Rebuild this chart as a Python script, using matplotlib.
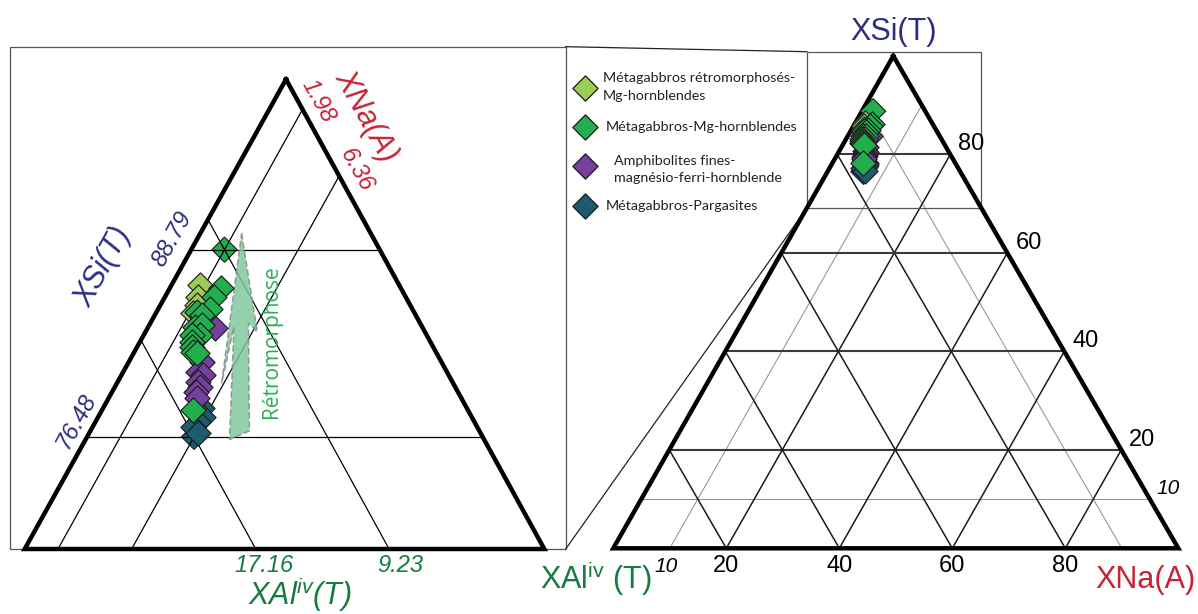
import numpy as np
import matplotlib.pyplot as plt
from matplotlib.patches import Polygon, Rectangle

plt.rcParams['font.family'] = ['Liberation Sans', 'DejaVu Sans']
plt.rcParams['mathtext.fontset'] = 'custom'
plt.rcParams['mathtext.rm'] = 'Liberation Sans'
plt.rcParams['mathtext.it'] = 'Liberation Sans:italic'

# amphibole compositions, XSi(T) / XAl_iv(T) / XNa(A) in %
retro_si = [86.47, 85.70, 85.15, 84.60]
retro_al = [11.84, 12.33, 12.67, 13.20]
retro_na = [1.69, 1.97, 2.18, 2.20]

mg_si = [86.25, 85.70, 84.71, 84.89, 84.49, 83.72, 83.84, 83.18, 83.18, 82.74, 82.41, 82.08, 81.98, 78.24]
mg_al = [10.70, 11.37, 12.91, 12.03, 12.73, 13.51, 13.04, 13.47, 13.97, 14.19, 14.35, 14.42, 14.27, 16.33]
mg_na = [3.05, 2.93, 2.38, 3.08, 2.78, 2.77, 3.12, 3.35, 2.85, 3.07, 3.24, 3.50, 3.75, 5.43]

amph_si = [83.66, 81.42, 80.76, 80.55, 80.11, 79.78, 79.45, 79.01]
amph_al = [12.34, 14.25, 14.78, 14.59, 15.10, 15.17, 15.58, 15.75]
amph_na = [4.00, 4.33, 4.46, 4.86, 4.79, 5.05, 4.97, 5.24]

parg_si = [78.36, 77.80, 77.47, 77.15, 76.71]
parg_al = [15.77, 15.96, 16.42, 16.87, 16.80]
parg_na = [5.87, 6.24, 6.11, 5.98, 6.49]

# the two analyses the zoom grid is drawn through
anchor_si = [88.79, 76.48]
anchor_al = [9.23, 17.16]
anchor_na = [1.98, 6.36]
anchor_cols = ['#22ae4d', '#1e5b6e']

# retromorphosis arrow outline (ternary, %)
arrow_si = [89.86, 83.38, 83.97, 76.86, 76.30, 83.72, 80.00]
arrow_na = [2.46, 6.65, 5.83, 9.46, 8.56, 5.09, 6.23]

series_labels = [['Métagabbros rétromorphosés-', 'Mg-hornblendes'],
                 ['Métagabbros-Mg-hornblendes'],
                 ['Amphibolites fines-', 'magnésio-ferri-hornblende'],
                 ['Métagabbros-Pargasites']]
series_cols = ['#9ccb58', '#22ae4d', '#7640a0', '#1e5b6e']

full_ticks = [20, 40, 60, 80]
minor_tick = 10
zoom_smin = 69.1   # lower XSi bound of the zoomed sub-triangle

NAVY = '#2e2d7f'
RED = '#c62336'
DKGREEN = '#157a43'

# frames: pixel corners of each triangle (top = XSi, bottom-left = XAl, bottom-right = XNa)
left_fr = dict(top=(286.0, 79.3), bl=(24.7, 549.0), br=(544.3, 549.0), smin=zoom_smin)
right_fr = dict(top=(893.3, 56.0), bl=(613.3, 548.3), br=(1178.3, 548.3), smin=0.0)


def to_xy(si, al, na, fr):
    si, al, na = np.asarray(si, float), np.asarray(al, float), np.asarray(na, float)
    span = 100.0 - fr['smin']
    wt = (si - fr['smin']) / span
    wl = al / span
    wr = na / span
    x = wt * fr['top'][0] + wl * fr['bl'][0] + wr * fr['br'][0]
    y = wt * fr['top'][1] + wl * fr['bl'][1] + wr * fr['br'][1]
    return x, y


def seg(ax, p, q, fr, **kw):
    x, y = to_xy([p[0], q[0]], [p[1], q[1]], [p[2], q[2]], fr)
    ax.plot(x, y, solid_capstyle='butt', **kw)


def si_line(ax, v, fr, **kw):
    seg(ax, (v, 100 - v, 0), (v, 0, 100 - v), fr, **kw)


def na_line(ax, v, fr, **kw):
    s0 = fr['smin']
    seg(ax, (100 - v, 0, v), (s0, 100 - s0 - v, v), fr, **kw)


def al_line(ax, v, fr, **kw):
    s0 = fr['smin']
    seg(ax, (100 - v, v, 0), (s0, v, 100 - s0 - v), fr, **kw)


def outline(ax, fr, lw):
    s0 = fr['smin']
    x, y = to_xy([100, s0, s0, 100], [0, 100 - s0, 0, 0], [0, 0, 100 - s0, 0], fr)
    ax.plot(x, y, color='black', lw=lw, solid_joinstyle='miter', zorder=8)


fig = plt.figure(figsize=(11.98, 6.14), dpi=100)
ax = fig.add_axes([0, 0, 1, 1])
ax.set_xlim(0, 1198)
ax.set_ylim(614, 0)
ax.axis('off')

all_sets = [(retro_si, retro_al, retro_na), (mg_si, mg_al, mg_na),
            (amph_si, amph_al, amph_na), (parg_si, parg_al, parg_na)]
draw_order = [0, 3, 2, 1]
zorders = {0: 4, 3: 5, 2: 6, 1: 7}
msize = 165

# ---------------- left panel (zoom) ----------------
lbox = (10.0, 46.7, 565.7, 549.0)
ax.add_patch(Rectangle((lbox[0], lbox[1]), lbox[2] - lbox[0], lbox[3] - lbox[1],
                       fill=False, ec='#555555', lw=0.9, zorder=1))

gkw = dict(color='black', lw=0.9, zorder=3)
for v in anchor_si:
    si_line(ax, v, left_fr, **gkw)
for v in anchor_na:
    na_line(ax, v, left_fr, **gkw)
for v in anchor_al:
    al_line(ax, v, left_fr, **gkw)
outline(ax, left_fr, 3.2)

ax_x, ax_y = to_xy(anchor_si, anchor_al, anchor_na, left_fr)
ax.scatter(ax_x, ax_y, s=msize, marker='D', c=anchor_cols, edgecolors='#1a1a1a',
           linewidths=0.8, zorder=2)

for i in draw_order:
    si, al, na = all_sets[i]
    x, y = to_xy(si, al, na, left_fr)
    ax.scatter(x, y, s=msize, marker='D', c=series_cols[i], edgecolors='#1a1a1a',
               linewidths=0.8, zorder=zorders[i])

arrow_al = [100 - s - n for s, n in zip(arrow_si, arrow_na)]
axr, ayr = to_xy(arrow_si, arrow_al, arrow_na, left_fr)
ax.add_patch(Polygon(np.column_stack([axr, ayr]), closed=True, fc='#7fc99c', alpha=0.85,
                     ec='#8a8a8a', lw=1.1, ls=(0, (4, 2)), zorder=3.5))
ax.text(272, 341.7, 'Rétromorphose', rotation=90, ha='center', va='center',
        color='#27ae55', fontsize=15, family=['Open Sans', 'DejaVu Sans'])

# left panel axis labels
ang = 61
ax.text(103, 267, 'XSi(T)', rotation=ang, ha='center', va='center', color=NAVY,
        fontsize=22, style='italic')
for v, off in zip(anchor_si, [(-19.5, -10.4), (-11, -16)]):
    x, y = to_xy(v, 100 - v, 0, left_fr)
    ax.text(x + off[0], y + off[1], f'{v:.2f}', rotation=ang, ha='center', va='center',
            color=NAVY, fontsize=17, style='italic')
ax.text(366, 116.7, 'XNa(A)', rotation=-ang, ha='center', va='center', color=RED,
        fontsize=22, style='italic')
for v, off in zip(anchor_na, [(16, -8), (17, -6)]):
    x, y = to_xy(100 - v, 0, v, left_fr)
    ax.text(x + off[0], y + off[1], f'{v:.2f}', rotation=-ang, ha='center', va='center',
            color=RED, fontsize=17, style='italic')
for v, dx in zip(anchor_al, [11.5, 8]):
    x, y = to_xy(zoom_smin, v, 100 - zoom_smin - v, left_fr)
    ax.text(x + dx, y + 17, f'{v:.2f}', ha='center', va='center', color=DKGREEN,
            fontsize=17, style='italic')
ax.text(300, 594, r'XAl$^{\mathit{iv}}$(T)', ha='center', va='center', color=DKGREEN,
        fontsize=22, style='italic')

# ---------------- right panel (full diagram) ----------------
thin = dict(color='#8c8c8c', lw=0.7, zorder=2)
dark = dict(color='#1a1a1a', lw=1.1, zorder=2)
hz = dict(color='#3a3a3a', lw=1.5, zorder=2)
si_line(ax, minor_tick, right_fr, **thin)
na_line(ax, minor_tick, right_fr, **thin)
al_line(ax, minor_tick, right_fr, **thin)
for v in full_ticks:
    si_line(ax, v, right_fr, **hz)
    na_line(ax, v, right_fr, **dark)
    al_line(ax, v, right_fr, **dark)
outline(ax, right_fr, 3.2)

# box framing the zoomed region
bx0, by0 = to_xy(zoom_smin, 100 - zoom_smin, 0, right_fr)
bx1, _ = to_xy(zoom_smin, 0, 100 - zoom_smin, right_fr)
btop = right_fr['top'][1] - 4.3
ax.add_patch(Rectangle((bx0, btop), bx1 - bx0, by0 - btop, fill=False, ec='#555555',
                       lw=0.9, zorder=2))
# connector lines between the two boxes
ax.plot([lbox[2], bx0], [lbox[1], btop], color='#222222', lw=0.9, zorder=1)
ax.plot([lbox[2], bx0], [lbox[3], by0], color='#222222', lw=0.9, zorder=1)

ax.scatter(*to_xy(anchor_si, anchor_al, anchor_na, right_fr), s=msize, marker='D',
           c=anchor_cols, edgecolors='#1a1a1a', linewidths=0.8, zorder=9)
for i in draw_order:
    si, al, na = all_sets[i]
    x, y = to_xy(si, al, na, right_fr)
    ax.scatter(x, y, s=msize, marker='D', c=series_cols[i], edgecolors='#1a1a1a',
               linewidths=0.8, zorder=9 + zorders[i])

# right panel tick labels
for v in full_ticks:
    x, y = to_xy(0, 100 - v, v, right_fr)
    ax.text(x, y + 18, str(v), ha='center', va='center', fontsize=17)
    x, y = to_xy(v, 0, 100 - v, right_fr)
    ax.text(x + 8, y - 10, str(v), ha='left', va='center', fontsize=17)
x, y = to_xy(0, 100 - minor_tick, minor_tick, right_fr)
ax.text(x - 4, y + 18, str(minor_tick), ha='center', va='center', fontsize=15, style='italic')
x, y = to_xy(minor_tick, 0, 100 - minor_tick, right_fr)
ax.text(x + 7, y - 11, str(minor_tick), ha='left', va='center', fontsize=15, style='italic')

tx, ty = right_fr['top']
ax.text(tx, ty - 24, 'XSi(T)', ha='center', va='center', color=NAVY, fontsize=22)
rx, ry = right_fr['br']
ax.text(rx - 33, ry + 32, 'XNa(A)', ha='center', va='center', color=RED, fontsize=22)
ax.text(540, 579, r'XAl$^{\mathrm{iv}}$ (T)', ha='left', va='center', color=DKGREEN,
        fontsize=22)

# ---------------- legend ----------------
leg_marker_y = [88.3, 127.3, 166.0, 206.0]
leg_text_x = [602.7, 605.7, 614.0, 605.7]
leg_text_y = [[78.3, 96.0], [126.7], [161.0, 178.3], [205.7]]
for col, lines, my, tx0, tys in zip(series_cols, series_labels, leg_marker_y, leg_text_x, leg_text_y):
    ax.scatter([585], [my], s=msize, marker='D', c=col, edgecolors='#1a1a1a',
               linewidths=0.9, zorder=10)
    for line, yy in zip(lines, tys):
        ax.text(tx0, yy, line, ha='left', va='center', fontsize=10.3,
                family=['Lato', 'DejaVu Sans'], color='#222222')

fig.savefig('out.png', dpi=100)
